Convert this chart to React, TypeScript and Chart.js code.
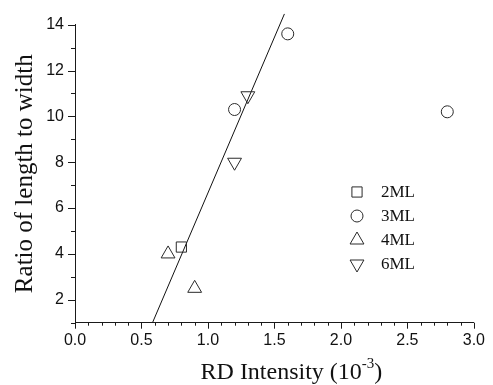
import React, { useEffect, useRef } from 'react';
import { Chart, registerables } from 'chart.js';

Chart.register(...registerables);

// ---- data ----
const SERIES_NAMES = ['2ML', '3ML', '4ML', '6ML'];
const X_2ML = [0.8];
const Y_2ML = [4.3];
const X_3ML = [1.2, 1.6, 2.8];
const Y_3ML = [10.3, 13.6, 10.2];
const X_4ML = [0.7, 0.9];
const Y_4ML = [4.0, 2.5];
const X_6ML = [1.2, 1.3];
const Y_6ML = [8.0, 10.9];
const FIT_X = [0.583, 1.575];
const FIT_Y = [1.0, 14.47];

const X_MIN = 0;
const X_MAX = 3;
const Y_MIN = 1;
const Y_MAX = 14;
const X_MAJOR_STEP = 0.5;
const X_MINOR_STEP = 0.1;
const Y_MAJOR_STEP = 2;
const Y_MINOR_STEP = 1;

const AXIS_COLOR = '#1a1a1a';
const MARK_COLOR = '#2a2a2a';
const TICK_FONT = '"Liberation Sans", Arial, sans-serif';
const SERIF = '"Liberation Serif", "Times New Roman", serif';

const toPts = (xs: number[], ys: number[]) => xs.map((x, i) => ({ x, y: ys[i] }));

const MARKERS = [
  { style: 'rect', radius: 7.2, rotation: 0 },
  { style: 'circle', radius: 6, rotation: 0 },
  { style: 'triangle', radius: 8, rotation: 0 },
  { style: 'triangle', radius: 8, rotation: 180 },
];

function drawMarker(ctx: CanvasRenderingContext2D, style: string, r: number, rot: number, x: number, y: number) {
  ctx.beginPath();
  if (style === 'rect') {
    const s = Math.SQRT1_2 * r;
    ctx.rect(x - s, y - s, 2 * s, 2 * s);
  } else if (style === 'circle') {
    ctx.arc(x, y, r, 0, Math.PI * 2);
  } else {
    let a = (rot * Math.PI) / 180;
    ctx.moveTo(x + Math.sin(a) * r, y - Math.cos(a) * r);
    a += (2 * Math.PI) / 3;
    ctx.lineTo(x + Math.sin(a) * r, y - Math.cos(a) * r);
    a += (2 * Math.PI) / 3;
    ctx.lineTo(x + Math.sin(a) * r, y - Math.cos(a) * r);
    ctx.closePath();
  }
  ctx.stroke();
}

const decorPlugin = {
  id: 'decor',
  afterDraw(chart: any) {
    const ctx: CanvasRenderingContext2D = chart.ctx;
    const xs = chart.scales.x;
    const ys = chart.scales.y;
    const area = chart.chartArea;
    ctx.save();
    ctx.strokeStyle = AXIS_COLOR;
    ctx.lineWidth = 1;
    // y ticks (outward, left)
    for (let v = Y_MIN; v <= Y_MAX + 1e-9; v += Y_MINOR_STEP) {
      const py = Math.round(ys.getPixelForValue(v)) + 0.5;
      const major = Math.abs(v / Y_MAJOR_STEP - Math.round(v / Y_MAJOR_STEP)) < 1e-6;
      const len = major ? 7 : 4;
      ctx.beginPath();
      ctx.moveTo(area.left, py);
      ctx.lineTo(area.left - len, py);
      ctx.stroke();
    }
    // x ticks (outward, down)
    for (let i = 0; X_MIN + i * X_MINOR_STEP <= X_MAX + 1e-9; i++) {
      const v = X_MIN + i * X_MINOR_STEP;
      const px = Math.round(xs.getPixelForValue(v)) + 0.5;
      const major = Math.abs(v / X_MAJOR_STEP - Math.round(v / X_MAJOR_STEP)) < 1e-6;
      const len = major ? 6 : 3;
      ctx.beginPath();
      ctx.moveTo(px, area.bottom);
      ctx.lineTo(px, area.bottom + len);
      ctx.stroke();
    }
    // x title with superscript
    ctx.fillStyle = '#111';
    ctx.textBaseline = 'alphabetic';
    ctx.textAlign = 'left';
    const base = 'RD Intensity (10';
    const sup = '-3';
    const close = ')';
    ctx.font = `24px ${SERIF}`;
    const wBase = ctx.measureText(base).width;
    const wClose = ctx.measureText(close).width;
    ctx.font = `15px ${SERIF}`;
    const wSup = ctx.measureText(sup).width;
    const total = wBase + wSup + wClose;
    const cx = area.left + (area.right - area.left) / 2 + 17;
    const startX = cx - total / 2;
    const baseY = 379;
    ctx.font = `24px ${SERIF}`;
    ctx.fillText(base, startX, baseY);
    ctx.font = `15px ${SERIF}`;
    ctx.fillText(sup, startX + wBase, baseY - 11);
    ctx.font = `24px ${SERIF}`;
    ctx.fillText(close, startX + wBase + wSup, baseY);
    // y title
    ctx.save();
    ctx.translate(32, (area.top + area.bottom) / 2);
    ctx.rotate(-Math.PI / 2);
    ctx.textAlign = 'center';
    ctx.font = `25px ${SERIF}`;
    ctx.fillText('Ratio of length to width', 0, 0);
    ctx.restore();
    // legend
    ctx.strokeStyle = MARK_COLOR;
    ctx.lineWidth = 1;
    ctx.font = `17px ${SERIF}`;
    ctx.textBaseline = 'middle';
    ctx.textAlign = 'left';
    SERIES_NAMES.forEach((name, i) => {
      const y = 192 + i * 24;
      const m = MARKERS[i];
      drawMarker(ctx, m.style, m.radius, m.rotation, 357, y);
      ctx.fillText(name, 381, y + 1);
    });
    ctx.restore();
  },
};

export default function App() {
  const ref = useRef<HTMLCanvasElement>(null);
  useEffect(() => {
    if (!ref.current) return;
    const seriesData = [
      toPts(X_2ML, Y_2ML),
      toPts(X_3ML, Y_3ML),
      toPts(X_4ML, Y_4ML),
      toPts(X_6ML, Y_6ML),
    ];
    const datasets: any[] = SERIES_NAMES.map((name, i) => ({
      type: 'scatter',
      label: name,
      data: seriesData[i],
      pointStyle: MARKERS[i].style,
      pointRadius: MARKERS[i].radius,
      pointRotation: MARKERS[i].rotation,
      borderColor: MARK_COLOR,
      backgroundColor: 'rgba(0,0,0,0)',
      borderWidth: 1,
      showLine: false,
    }));
    datasets.push({
      type: 'line',
      label: 'fit',
      data: toPts(FIT_X, FIT_Y),
      borderColor: '#111',
      borderWidth: 1,
      pointRadius: 0,
      fill: false,
      tension: 0,
      clip: false,
    });
    const chart = new Chart(ref.current, {
      type: 'scatter',
      data: { datasets },
      options: {
        animation: false,
        responsive: false,
        devicePixelRatio: 1,
        layout: { padding: { top: 24.7, right: 14, left: 0, bottom: 0 } },
        plugins: { legend: { display: false }, tooltip: { enabled: false } },
        scales: {
          x: {
            type: 'linear',
            min: X_MIN,
            max: X_MAX,
            grid: { display: false, drawTicks: false },
            border: { display: true, color: AXIS_COLOR, width: 1 },
            ticks: {
              stepSize: X_MAJOR_STEP,
              color: '#111',
              font: { family: TICK_FONT, size: 16 },
              padding: 8,
              maxRotation: 0,
              callback: (v: any) => Number(v).toFixed(1),
            },
            afterFit: (s: any) => { s.height = 62.3; },
          },
          y: {
            type: 'linear',
            min: Y_MIN,
            max: Y_MAX,
            grid: { display: false, drawTicks: false },
            border: { display: true, color: AXIS_COLOR, width: 1 },
            ticks: {
              stepSize: Y_MINOR_STEP,
              color: '#111',
              font: { family: TICK_FONT, size: 16 },
              padding: 11,
              autoSkip: false,
              callback: (v: any) => (Number(v) % Y_MAJOR_STEP === 0 ? String(v) : ''),
            },
            afterFit: (s: any) => { s.width = 75; },
          },
        },
      },
      plugins: [decorPlugin],
    });
    return () => chart.destroy();
  }, []);
  return (
    <div style={{ position: 'fixed', left: 0, top: 0, width: 493, height: 385, background: '#fff' }}>
      <canvas ref={ref} width={493} height={385} style={{ display: 'block' }} />
    </div>
  );
}
